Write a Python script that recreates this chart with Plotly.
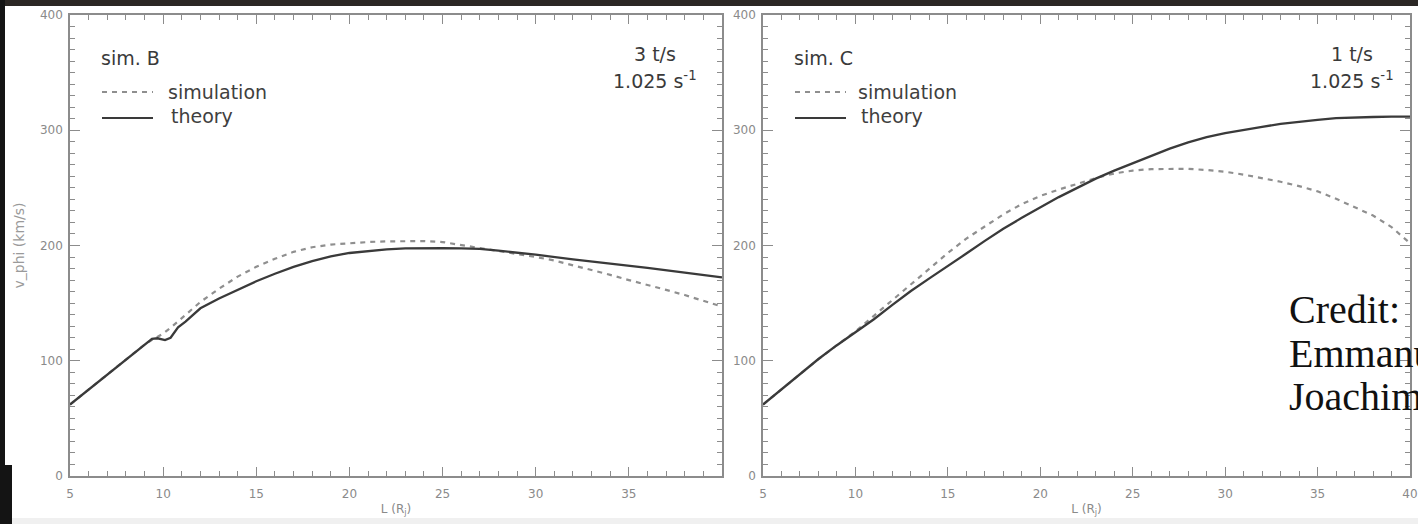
import plotly.graph_objects as go

W, H = 1418, 524

# ---------------- data ----------------
# sim. B  (left panel)
L_B_theory = [5, 6, 7, 8, 9, 9.4, 9.7, 10.1, 10.4, 10.8, 11.2, 12, 13, 14, 15, 16, 17, 18, 19, 20,
              21, 22, 23, 24, 25, 26, 27, 28, 29, 30, 32, 34, 36, 38, 40]
v_B_theory = [62, 75, 88, 101, 114, 119, 119.5, 118, 120, 129, 134, 145.5, 154, 161.5, 169, 175.5,
              181.5, 186.5, 190.5, 193.5, 195.3, 196.7, 197.5, 197.8, 197.8, 197.5, 197, 195.5, 194,
              192, 188, 184.5, 180.5, 176.5, 172.4]
L_B_sim = [5, 6, 7, 8, 9, 9.5, 10, 10.5, 11, 12, 13, 14, 15, 16, 17, 18, 19, 20, 21, 22, 23, 24,
           25, 26, 27, 28, 29, 30, 31, 32, 33, 34, 35, 36, 37, 38, 39, 40]
v_B_sim = [62, 75, 88, 101, 114, 119, 123.5, 130, 137, 151, 162.5, 173, 181.5, 188.5, 194.5, 198.5,
           200.8, 202, 203, 203.6, 204, 203.8, 203, 200.5, 197.5, 195, 192.5, 190, 187, 183, 179,
           174.5, 170, 166, 161.5, 157, 152, 147]

# sim. C  (right panel)
L_C_theory = [5, 6, 7, 8, 9, 10, 11, 12, 13, 14, 15, 16, 17, 18, 19, 20, 21, 22, 23, 24, 25, 26,
              27, 28, 29, 30, 31, 32, 33, 34, 35, 36, 37, 38, 39, 40]
v_C_theory = [62, 75, 88.5, 101.5, 113.5, 125, 136, 148.5, 160.5, 171.5, 182, 193, 204, 214.5, 224,
              233, 242, 250, 258, 265, 271.5, 278, 284, 289.5, 294, 297.5, 300.5, 303, 305.5, 307.5,
              309, 310.5, 311.2, 311.5, 311.8, 311.8]
L_C_sim = [5, 6, 7, 8, 9, 10, 11, 12, 13, 14, 15, 16, 17, 18, 19, 20, 21, 22, 23, 24, 25, 26, 27,
           28, 29, 30, 31, 32, 33, 34, 35, 36, 37, 38, 39, 40]
v_C_sim = [62, 75, 88.5, 101.5, 113.5, 125.5, 139, 152.5, 166, 179.5, 193.5, 206, 216.5, 227, 236,
           243, 248.5, 253.5, 258.5, 262.5, 265, 266.3, 266.6, 266.5, 265.5, 264, 261.5, 258.5,
           255.3, 251.5, 247, 240.5, 233.5, 226, 216, 202]

x_ticks_B = [5, 10, 15, 20, 25, 30, 35]
x_ticks_C = [5, 10, 15, 20, 25, 30, 35, 40]
y_ticks = [0, 100, 200, 300, 400]

# ---------------- helpers ----------------
def px(x):
    return x / W

def py(y):
    return (H - y) / H

SIM_COLOR = '#8f8f8f'
TH_COLOR = '#3a3a3a'
AX_COLOR = '#8c8c8c'
LBL_COLOR = '#8a8a8a'
TXT_COLOR = '#3a3a3a'

fig = go.Figure()
fig.add_trace(go.Scatter(x=L_B_sim, y=v_B_sim, mode='lines', name='simulation',
                         line=dict(color=SIM_COLOR, width=2.2, dash='5px,5px'),
                         xaxis='x', yaxis='y', showlegend=False))
fig.add_trace(go.Scatter(x=L_B_theory, y=v_B_theory, mode='lines', name='theory',
                         line=dict(color=TH_COLOR, width=2.3),
                         xaxis='x', yaxis='y', showlegend=False))
fig.add_trace(go.Scatter(x=L_C_sim, y=v_C_sim, mode='lines', name='simulation',
                         line=dict(color=SIM_COLOR, width=2.2, dash='5px,5px'),
                         xaxis='x2', yaxis='y2', showlegend=False))
fig.add_trace(go.Scatter(x=L_C_theory, y=v_C_theory, mode='lines', name='theory',
                         line=dict(color=TH_COLOR, width=2.3),
                         xaxis='x2', yaxis='y2', showlegend=False))

tickfont = dict(family='DejaVu Sans', size=12, color=LBL_COLOR)
titlefont = dict(family='DejaVu Sans', size=12, color=LBL_COLOR)

def xaxis(domain, tickvals, anchor):
    return dict(domain=domain, anchor=anchor, range=[5, 40], tickmode='array', tickvals=tickvals,
                showline=True, linecolor=AX_COLOR, linewidth=1.5, mirror='allticks',
                ticks='inside', ticklen=9, tickwidth=1.2, tickcolor=AX_COLOR,
                showgrid=False, zeroline=False, tickfont=tickfont, ticklabelstandoff=6,
                automargin=False,
                minor=dict(tickmode='linear', tick0=5, dtick=1, ticks='inside', ticklen=5,
                           tickwidth=1, tickcolor=AX_COLOR, showgrid=False),
                title=dict(text='L (R<sub>j</sub>)', font=titlefont, standoff=4))

def yaxis(domain, anchor, title):
    d = dict(domain=domain, anchor=anchor, range=[0, 400], tickmode='array', tickvals=y_ticks,
             showline=True, linecolor=AX_COLOR, linewidth=1.5, mirror='allticks',
             ticks='inside', ticklen=10, tickwidth=1.2, tickcolor=AX_COLOR,
             showgrid=False, zeroline=False, tickfont=tickfont, ticklabelstandoff=3,
             automargin=False,
             minor=dict(tickmode='linear', tick0=0, dtick=10, ticks='inside', ticklen=5,
                        tickwidth=1, tickcolor=AX_COLOR, showgrid=False))
    if title:
        d['title'] = dict(text=title, font=dict(family='DejaVu Sans', size=14, color='#9a9a9a'),
                          standoff=12)
    return d

ydom = [py(476), py(15)]
fig.update_layout(
    width=W, height=H,
    margin=dict(l=0, r=0, t=0, b=0),
    paper_bgcolor='white', plot_bgcolor='white',
    showlegend=False,
    xaxis=xaxis([px(70), px(722)], x_ticks_B, 'y'),
    yaxis=yaxis(ydom, 'x', 'v_phi (km/s)'),
    xaxis2=xaxis([px(763), px(1410)], x_ticks_C, 'y2'),
    yaxis2=yaxis(ydom, 'x2', None),
)

shapes = []
# dark frame remnants of the original picture
shapes.append(dict(type='rect', xref='paper', yref='paper', x0=0, x1=1, y0=py(6), y1=1,
                   fillcolor='#2b2724', line=dict(width=0), layer='above'))
shapes.append(dict(type='rect', xref='paper', yref='paper', x0=0, x1=px(5), y0=0, y1=1,
                   fillcolor='#141414', line=dict(width=0), layer='above'))
shapes.append(dict(type='rect', xref='paper', yref='paper', x0=0, x1=px(12), y0=0, y1=py(465),
                   fillcolor='#141414', line=dict(width=0), layer='above'))
shapes.append(dict(type='rect', xref='paper', yref='paper', x0=px(12), x1=1, y0=0, y1=py(518),
                   fillcolor='#f0f0f0', line=dict(width=0), layer='below'))

annotations = []
def txt(x, y, s, size=19, anchor='left', color=TXT_COLOR, family='DejaVu Sans'):
    annotations.append(dict(x=px(x), y=py(y), xref='paper', yref='paper', text=s,
                            showarrow=False, xanchor=anchor, yanchor='middle',
                            font=dict(family=family, size=size, color=color)))

# legend keys & labels for both panels
for (x0, name, lab_x, info_x, info1) in [(101, 'sim. B', 166, 655, '3 t/s'),
                                         (794, 'sim. C', 856, 1352, '1 t/s')]:
    txt(x0 - 2, 58, name)
    shapes.append(dict(type='line', xref='paper', yref='paper', x0=px(x0 + 1), x1=px(x0 + 52),
                       y0=py(92), y1=py(92), line=dict(color=SIM_COLOR, width=2, dash='5px,5px')))
    shapes.append(dict(type='line', xref='paper', yref='paper', x0=px(x0 + 1), x1=px(x0 + 52),
                       y0=py(118), y1=py(118), line=dict(color=TH_COLOR, width=2)))
    txt(lab_x, 92, 'simulation', color='#404040')
    txt(lab_x + 3, 116, 'theory', color='#404040')
    txt(info_x, 54, info1, anchor='center')
    txt(info_x, 80, '1.025 s<sup>-1</sup>', anchor='center')

# credit overlay (cut at the right edge, as in the reference)
for y, s in [(310, 'Credit:'), (353, 'Emmanuel'), (396, 'Joachim')]:
    txt(1287, y, s, size=40, color='#111111', family='Liberation Serif')

fig.update_layout(shapes=shapes, annotations=annotations)
fig.write_html('out.html')
